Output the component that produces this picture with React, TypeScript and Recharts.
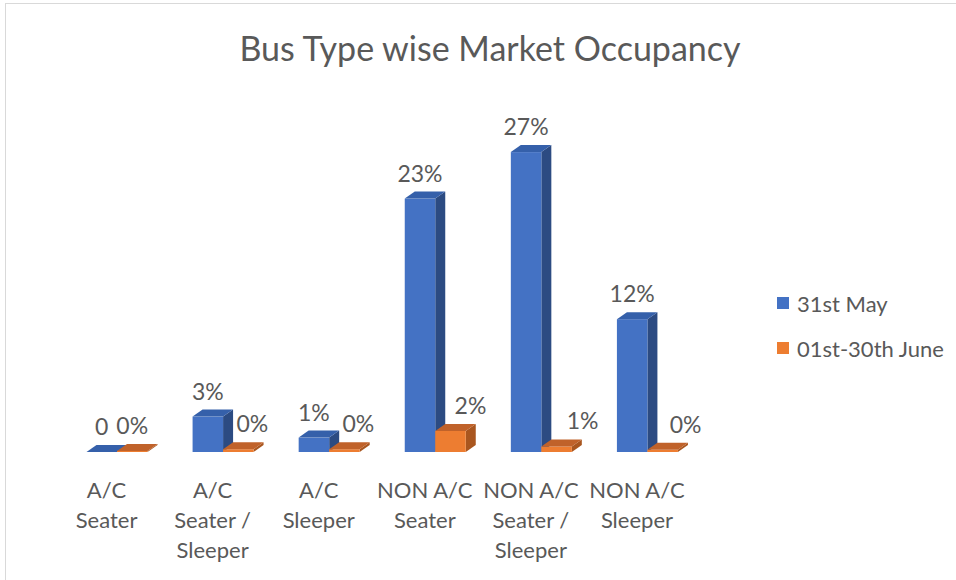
import React from "react";
import { BarChart, Bar, XAxis, YAxis, Legend, LabelList } from "recharts";

const categories = [
  "A/C\nSeater",
  "A/C\nSeater /\nSleeper",
  "A/C\nSleeper",
  "NON A/C\nSeater",
  "NON A/C\nSeater /\nSleeper",
  "NON A/C\nSleeper",
];
const may31 = [0, 0.032, 0.013, 0.229, 0.271, 0.12];
const june = [0.001, 0.0025, 0.0025, 0.019, 0.005, 0.002];
const seriesNames = ["31st May", "01st-30th June"];

const orangeLabelShift = [0, 14, 14, 20, 26, 23];

const data = categories.map((c, i) => ({ name: c, may: may31[i], june: june[i] }));

const FONT = "Lato, 'Noto Sans', sans-serif";
const TEXT = "#595959";
const DX = 10;
const DY = 7;

const palette: Record<string, { front: string; side: string; top: string }> = {
  may: { front: "#4472C4", side: "#2C4B82", top: "#3560AA" },
  june: { front: "#ED7D31", side: "#A9561F", top: "#C0622A" },
};

const Bar3D = (props: any) => {
  const { x, y, width, height, dataKey } = props;
  const c = palette[dataKey];
  const x0 = x;
  const x1 = x + width;
  const yt = y;
  const yb = y + height;
  return (
    <g>
      <polygon
        points={`${x1},${yt} ${x1 + DX},${yt - DY} ${x1 + DX},${yb - DY} ${x1},${yb}`}
        fill={c.side}
      />
      {height > 0 && <rect x={x0} y={yt} width={width} height={height} fill={c.front} />}
      <polygon
        points={`${x0},${yt} ${x1},${yt} ${x1 + DX},${yt - DY} ${x0 + DX},${yt - DY}`}
        fill={c.top}
      />
    </g>
  );
};

const fmt = (v: number) => (v === 0 ? "0" : `${Math.round(v * 100)}%`);

const makeLabel = (shift: number[] | null) => (props: any) => {
  const { x, y, width, value, index } = props;
  const cx = x + width / 2 + (shift ? shift[index] : 0);
  return (
    <text
      x={cx}
      y={y - 26}
      textAnchor="middle"
      dominantBaseline="central"
      fill={TEXT}
      fontSize={23}
      fontFamily={FONT}
    >
      {fmt(value)}
    </text>
  );
};

const Tick = (props: any) => {
  const { x, y, payload } = props;
  const lines = String(payload.value).split("\n");
  return (
    <g>
      {lines.map((l, i) => (
        <text
          key={i}
          x={x - 10}
          y={y + 29 + i * 30}
          textAnchor="middle"
          dominantBaseline="central"
          fill={TEXT}
          fontSize={22}
          fontFamily={FONT}
        >
          {l}
        </text>
      ))}
    </g>
  );
};

const LegendContent = () => (
  <div style={{ fontFamily: FONT, color: TEXT, fontSize: 22 }}>
    {seriesNames.map((n, i) => (
      <div
        key={n}
        style={{ display: "flex", alignItems: "center", height: 24, marginBottom: i === 0 ? 21 : 0 }}
      >
        <span
          style={{
            display: "inline-block",
            width: 12,
            height: 12,
            background: i === 0 ? palette.may.front : palette.june.front,
            marginRight: 8,
          }}
        />
        <span style={{ whiteSpace: "nowrap" }}>{n}</span>
      </div>
    ))}
  </div>
);

export default function App() {
  return (
    <div style={{ position: "absolute", left: 0, top: 0, width: 956, height: 580, background: "#fff", overflow: "hidden" }}>
      <div
        style={{
          position: "absolute",
          left: 5,
          top: 3,
          width: 970,
          height: 600,
          border: "1px solid #d9d9d9",
          boxSizing: "border-box",
        }}
      />
      <div
        style={{
          position: "absolute",
          left: 0,
          width: 980,
          top: 27,
          textAlign: "center",
          fontFamily: FONT,
          fontSize: 34,
          color: TEXT,
          lineHeight: "42px",
        }}
      >
        Bus Type wise Market Occupancy
      </div>
      <div style={{ position: "absolute", left: 0, top: 0 }}>
        <BarChart
          width={956}
          height={580}
          data={data}
          margin={{ top: 120, bottom: 0, left: 63.5, right: 256 }}
          barGap={0}
          barSize={30.5}
        >
          <XAxis dataKey="name" axisLine={false} tickLine={false} tick={<Tick />} interval={0} height={128} />
          <YAxis hide domain={[0, 0.3]} width={0} />
          <Legend
            content={<LegendContent />}
            layout="vertical"
            verticalAlign="middle"
            align="center"
            wrapperStyle={{ position: "absolute", left: 777, top: 291, width: 180 }}
          />
          <Bar dataKey="may" name={seriesNames[0]} isAnimationActive={false} shape={<Bar3D />}>
            <LabelList dataKey="may" content={makeLabel(null)} />
          </Bar>
          <Bar dataKey="june" name={seriesNames[1]} isAnimationActive={false} shape={<Bar3D />}>
            <LabelList dataKey="june" content={makeLabel(orangeLabelShift)} />
          </Bar>
        </BarChart>
      </div>
    </div>
  );
}
